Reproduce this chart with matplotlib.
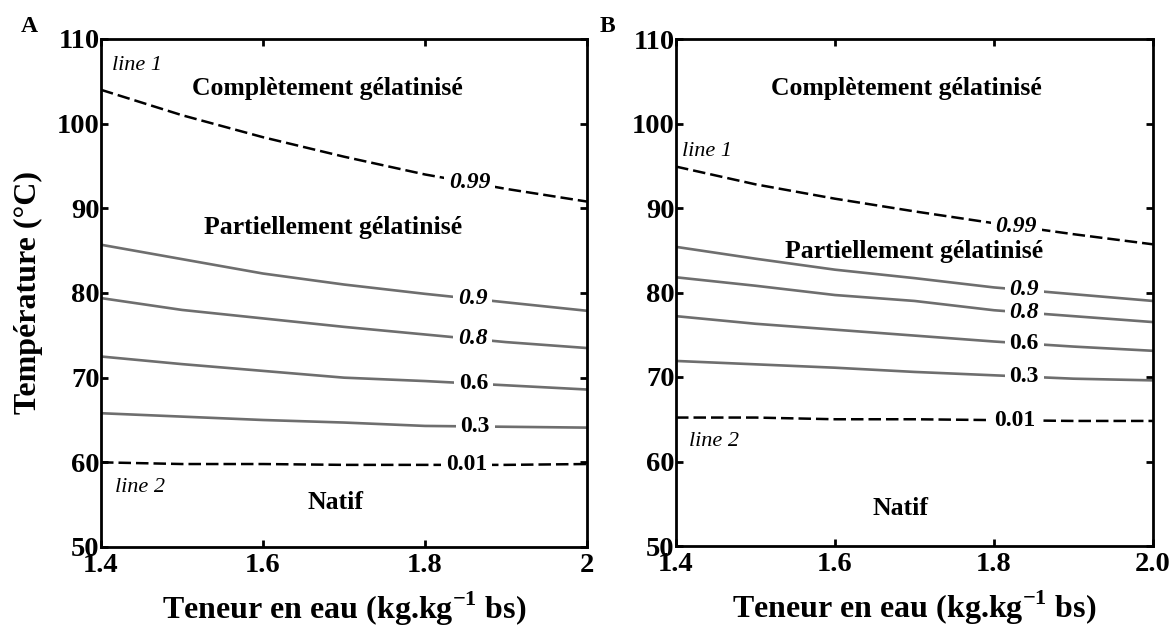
import numpy as np
import matplotlib
matplotlib.use("Agg")
import matplotlib.pyplot as plt

plt.rcParams['font.family'] = ['Liberation Serif', 'DejaVu Serif']
plt.rcParams['font.weight'] = 'bold'
plt.rcParams['mathtext.fontset'] = 'custom'
plt.rcParams['mathtext.rm'] = 'Liberation Serif:bold'
plt.rcParams['mathtext.bf'] = 'Liberation Serif:bold'

##################### donnees

# teneur en eau (kg/kg bs)
x_A = [1.4, 1.5, 1.6, 1.7, 1.8, 1.9, 2.0]
x_B = [1.4, 1.5, 1.6, 1.7, 1.8, 1.9, 2.0]

# niveaux de gelatinisation
levels = ['0.99', '0.9', '0.8', '0.6', '0.3', '0.01']

# Temperature (degC) pour chaque niveau, panneau A
T_A_099 = [104.0, 101.0, 98.4, 96.1, 94.0, 92.3, 90.8]
T_A_09  = [85.7, 84.0, 82.3, 81.0, 79.9, 78.9, 77.9]
T_A_08  = [79.4, 78.0, 77.0, 76.0, 75.1, 74.2, 73.5]
T_A_06  = [72.5, 71.6, 70.8, 70.0, 69.6, 69.1, 68.6]
T_A_03  = [65.8, 65.4, 65.0, 64.7, 64.3, 64.2, 64.1]
T_A_001 = [60.0, 59.8, 59.8, 59.7, 59.7, 59.7, 59.8]

# panneau B
T_B_099 = [94.9, 92.8, 91.1, 89.6, 88.2, 86.9, 85.7]
T_B_09  = [85.4, 84.0, 82.7, 81.7, 80.6, 79.8, 79.0]
T_B_08  = [81.8, 80.8, 79.7, 79.0, 77.9, 77.2, 76.5]
T_B_06  = [77.2, 76.3, 75.6, 74.9, 74.2, 73.6, 73.1]
T_B_03  = [71.9, 71.5, 71.1, 70.6, 70.2, 69.8, 69.6]
T_B_001 = [65.2, 65.2, 65.0, 65.0, 64.9, 64.8, 64.8]

# position des etiquettes (x) sur chaque courbe
lab_x_A = [1.855, 1.859, 1.859, 1.86, 1.862, 1.851]
lab_x_B = [1.828, 1.838, 1.838, 1.838, 1.838, 1.826]

xticks_A = [1.4, 1.6, 1.8, 2.0]
xticklabels_A = ['1.4', '1.6', '1.8', '2']
xticks_B = [1.4, 1.6, 1.8, 2.0]
xticklabels_B = ['1.4', '1.6', '1.8', '2.0']
yticks = [50, 60, 70, 80, 90, 100, 110]

##################### figure

fig = plt.figure(figsize=(11.75, 6.3), dpi=100)
axA = fig.add_axes([101/1175, 83/630, 486/1175, 508/630])
axB = fig.add_axes([676/1175, 84/630, 477/1175, 507/630])


def draw_panel(ax, x, curves, lab_x, xticks, xticklabels):
    for i, (T, lev) in enumerate(zip(curves, levels)):
        dashed = lev in ('0.99', '0.01')
        if dashed:
            ax.plot(x, T, color='black', lw=1.8, ls=(0, (5, 2)))
        else:
            ax.plot(x, T, color='#6e6e6e', lw=1.9)
        ty = np.interp(lab_x[i], x, T)
        style = 'italic' if lev in ('0.99', '0.9', '0.8') else 'normal'
        ax.text(lab_x[i], ty, lev, fontsize=17, fontweight='bold', fontstyle=style,
                ha='center', va='center',
                bbox=dict(boxstyle='square,pad=0.2', fc='white', ec='none'))
    ax.set_xlim(1.4, 2.0)
    ax.set_ylim(50, 110)
    ax.set_xticks(xticks)
    ax.set_xticklabels(xticklabels)
    ax.set_yticks(yticks)
    ax.tick_params(direction='in', length=5, width=2.0, labelsize=20.5,
                   top=True, right=True)
    ax.tick_params(axis='x', pad=4)
    ax.tick_params(axis='y', pad=1)
    for sp in ax.spines.values():
        sp.set_linewidth(2.0)
    ax.set_xlabel('Teneur en eau (kg.kg$^{-1}$ bs)', fontsize=23, fontweight='bold', labelpad=9)


draw_panel(axA, x_A, [T_A_099, T_A_09, T_A_08, T_A_06, T_A_03, T_A_001],
           lab_x_A, xticks_A, xticklabels_A)
draw_panel(axB, x_B, [T_B_099, T_B_09, T_B_08, T_B_06, T_B_03, T_B_001],
           lab_x_B, xticks_B, xticklabels_B)

axA.set_ylabel('Température (°C)', fontsize=23, fontweight='bold', labelpad=10)

# annotations panneau A
axA.text(1.414, 106.9, 'line 1', fontsize=16, fontstyle='italic', fontweight='normal', va='center')
axA.text(1.68, 104.2, 'Complètement gélatinisé', fontsize=18.5, ha='center', va='center')
axA.text(1.687, 87.7, 'Partiellement gélatinisé', fontsize=18.5, ha='center', va='center')
axA.text(1.417, 57.0, 'line 2', fontsize=16, fontstyle='italic', fontweight='normal', va='center')
axA.text(1.69, 55.2, 'Natif', fontsize=18.5, ha='center', va='center')

# annotations panneau B
axB.text(1.408, 96.7, 'line 1', fontsize=16, fontstyle='italic', fontweight='normal', va='center')
axB.text(1.69, 104.2, 'Complètement gélatinisé', fontsize=18.5, ha='center', va='center')
axB.text(1.70, 84.9, 'Partiellement gélatinisé', fontsize=18.5, ha='center', va='center')
axB.text(1.416, 62.4, 'line 2', fontsize=16, fontstyle='italic', fontweight='normal', va='center')
axB.text(1.682, 54.4, 'Natif', fontsize=18.5, ha='center', va='center')

fig.text(21/1175, 1 - 27/630, 'A', fontsize=17, fontweight='bold', ha='left', va='center')
fig.text(600/1175, 1 - 27/630, 'B', fontsize=17, fontweight='bold', ha='left', va='center')

plt.savefig('out.png', dpi=100)
